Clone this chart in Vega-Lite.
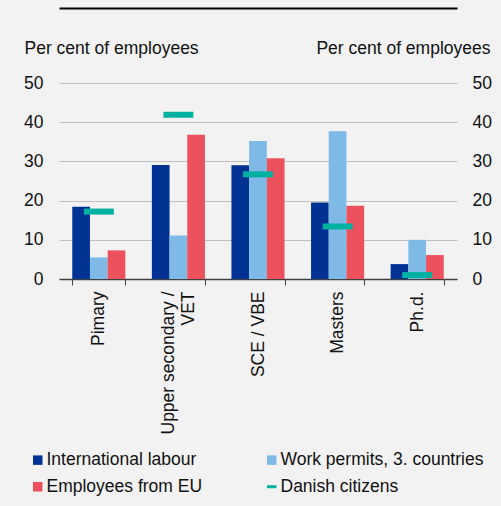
{
  "$schema": "https://vega.github.io/schema/vega-lite/v6.json",
  "width": 398,
  "height": 196,
  "autosize": {"type": "none"},
  "padding": {"left": 59, "top": 83, "right": 44, "bottom": 227},
  "background": "#f2f2f2",
  "config": {
    "font": "Liberation Sans",
    "view": {"stroke": null},
    "axis": {"labelFontSize": 17.5, "labelColor": "#111111", "titleFontSize": 17.5, "titleColor": "#111111", "titleFontWeight": "normal", "labelFont": "Liberation Sans", "titleFont": "Liberation Sans"},
    "legend": {"labelFont": "Liberation Sans"}
  },
  "data": {
    "values": [
      {"cat": "Pimary", "series": "International labour", "value": 18.4},
      {"cat": "Pimary", "series": "Work permits, 3. countries", "value": 5.5},
      {"cat": "Pimary", "series": "Employees from EU", "value": 7.3},
      {"cat": "Pimary", "series": "Danish citizens", "value": 17.2},
      {"cat": "Upper secondary / VET", "series": "International labour", "value": 29.1},
      {"cat": "Upper secondary / VET", "series": "Work permits, 3. countries", "value": 11.1},
      {"cat": "Upper secondary / VET", "series": "Employees from EU", "value": 36.8},
      {"cat": "Upper secondary / VET", "series": "Danish citizens", "value": 41.9},
      {"cat": "SCE / VBE", "series": "International labour", "value": 29.0},
      {"cat": "SCE / VBE", "series": "Work permits, 3. countries", "value": 35.2},
      {"cat": "SCE / VBE", "series": "Employees from EU", "value": 30.8},
      {"cat": "SCE / VBE", "series": "Danish citizens", "value": 26.7},
      {"cat": "Masters", "series": "International labour", "value": 19.5},
      {"cat": "Masters", "series": "Work permits, 3. countries", "value": 37.7},
      {"cat": "Masters", "series": "Employees from EU", "value": 18.7},
      {"cat": "Masters", "series": "Danish citizens", "value": 13.4},
      {"cat": "Ph.d.", "series": "International labour", "value": 3.8},
      {"cat": "Ph.d.", "series": "Work permits, 3. countries", "value": 10.0},
      {"cat": "Ph.d.", "series": "Employees from EU", "value": 6.1},
      {"cat": "Ph.d.", "series": "Danish citizens", "value": 1.0}
    ]
  },
  "layer": [
    {
      "transform": [{"filter": "datum.series != 'Danish citizens'"}],
      "mark": {"type": "bar"},
      "encoding": {
        "x": {
          "field": "cat", "type": "nominal",
          "sort": ["Pimary", "Upper secondary / VET", "SCE / VBE", "Masters", "Ph.d."],
          "scale": {"paddingInner": 0.333, "paddingOuter": 0.1667},
          "axis": {
            "orient": "bottom", "title": null, "labelAngle": -90, "tickBand": "extent",
            "tickSize": 6, "domainColor": "#404040", "tickColor": "#404040", "domainWidth": 1.3,
            "labelPadding": 6, "grid": false, "labelLineHeight": 20,
            "labelOffset": {"expr": "datum.value == 'Upper secondary / VET' ? -10 : 0"},
            "labelExpr": "datum.value == 'Upper secondary / VET' ? ['Upper secondary /', 'VET'] : datum.value"
          }
        },
        "xOffset": {
          "field": "series", "type": "nominal",
          "sort": ["International labour", "Work permits, 3. countries", "Employees from EU"],
          "scale": {"paddingInner": 0, "paddingOuter": 0}
        },
        "y": {
          "field": "value", "type": "quantitative",
          "scale": {"domain": [0, 50]},
          "axis": {
            "orient": "left", "title": "Per cent of employees", "titleAngle": 0,
            "titleAlign": "left", "titleBaseline": "alphabetic", "titleX": -35, "titleY": -30,
            "values": [0, 10, 20, 30, 40, 50], "domain": false, "ticks": false,
            "labelPadding": 16, "grid": true, "gridColor": "#bfbfbf", "gridWidth": 1
          }
        },
        "color": {
          "field": "series", "type": "nominal",
          "scale": {
            "domain": ["International labour", "Work permits, 3. countries", "Employees from EU", "Danish citizens"],
            "range": ["#003293", "#7fb9e6", "#eb525d", "#00b0a0"]
          },
          "legend": {
            "orient": "none", "direction": "horizontal", "legendX": -30, "legendY": 368, "columns": 2,
            "columnPadding": 58, "rowPadding": 8, "title": null,
            "labelFontSize": 17.5, "labelColor": "#111111", "labelOffset": 0, "labelLimit": 400,
            "symbolSize": 90, "symbolOpacity": 1,
            "symbolType": {"expr": "datum.value == 'Danish citizens' ? 'stroke' : 'square'"},
            "symbolStrokeColor": {"expr": "datum.value == 'Danish citizens' ? '#00b0a0' : null"},
            "symbolStrokeWidth": {"expr": "datum.value == 'Danish citizens' ? 3 : 0"}
          }
        }
      }
    },
    {
      "transform": [{"filter": "datum.series == 'Danish citizens'"}],
      "mark": {"type": "tick", "size": 30, "thickness": 6, "opacity": 1},
      "encoding": {
        "x": {
          "field": "cat", "type": "nominal",
          "sort": ["Pimary", "Upper secondary / VET", "SCE / VBE", "Masters", "Ph.d."],
          "axis": {"orient": "top", "offset": 75, "labels": false, "ticks": false, "title": null, "domainColor": "#000000", "domainWidth": 2, "grid": false}
        },
        "y": {
          "field": "value", "type": "quantitative",
          "scale": {"domain": [0, 50]},
          "axis": {
            "orient": "right", "title": "Per cent of employees", "titleAngle": 0,
            "titleAlign": "right", "titleBaseline": "alphabetic", "titleX": 33, "titleY": -30,
            "values": [0, 10, 20, 30, 40, 50], "domain": false, "ticks": false,
            "labelPadding": 15, "grid": false
          }
        },
        "color": {"field": "series", "type": "nominal"}
      }
    }
  ],
  "resolve": {"axis": {"y": "independent", "x": "independent"}}
}
